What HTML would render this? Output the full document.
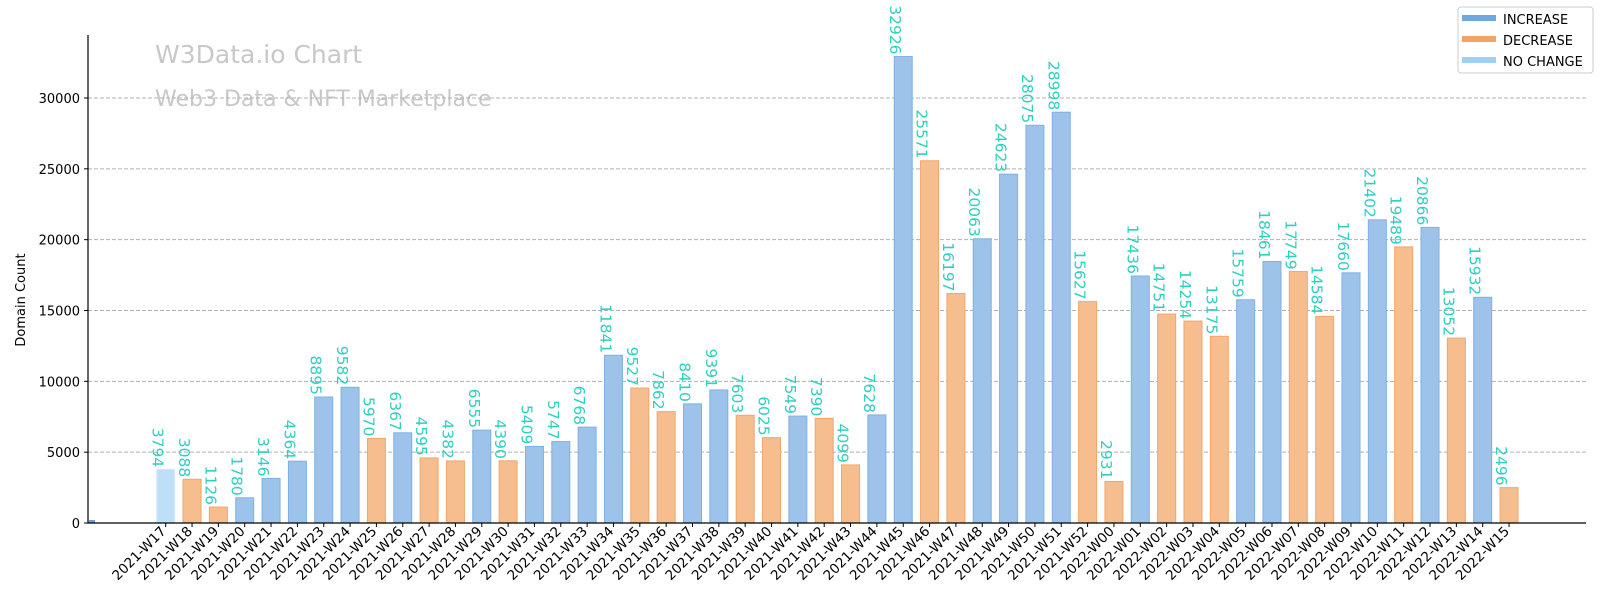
<!DOCTYPE html>
<html><head><meta charset="utf-8"><style>
body{margin:0;background:#fff;}
svg{display:block;font-family:"DejaVu Sans","Liberation Sans",sans-serif;}
</style></head><body>
<svg id="chart" width="1600" height="600" xmlns="http://www.w3.org/2000/svg">
<text x="155" y="63" font-size="25" fill="#c8c8c8">W3Data.io Chart</text>
<text x="155" y="106" font-size="22" fill="#c8c8c8">Web3 Data &amp; NFT Marketplace</text>
<g id="grid"></g><g id="bars"></g><g id="labels"></g><g id="axes"></g>
<text transform="translate(25,300) rotate(-90)" text-anchor="middle" font-size="13" fill="#000">Domain Count</text>
<g>
<rect x="1458" y="7" width="135" height="66" fill="#fff" stroke="#ccc" rx="3"/>
<g><rect x="1462" y="15" width="34" height="6" fill="#6fa8dc"/><text x="1503" y="24" font-size="13">INCREASE</text></g>
<g><rect x="1462" y="36" width="34" height="6" fill="#f4a460"/><text x="1503" y="45" font-size="13">DECREASE</text></g>
<g><rect x="1462" y="57" width="34" height="6" fill="#a0cff5"/><text x="1503" y="66" font-size="13">NO CHANGE</text></g>
</g>
</svg>
<script>
const categories=["2021-W17","2021-W18","2021-W19","2021-W20","2021-W21","2021-W22","2021-W23","2021-W24","2021-W25","2021-W26","2021-W27","2021-W28","2021-W29","2021-W30","2021-W31","2021-W32","2021-W33","2021-W34","2021-W35","2021-W36","2021-W37","2021-W38","2021-W39","2021-W40","2021-W41","2021-W42","2021-W43","2021-W44","2021-W45","2021-W46","2021-W47","2021-W48","2021-W49","2021-W50","2021-W51","2021-W52","2022-W00","2022-W01","2022-W02","2022-W03","2022-W04","2022-W05","2022-W06","2022-W07","2022-W08","2022-W09","2022-W10","2022-W11","2022-W12","2022-W13","2022-W14","2022-W15"];
const values=[3794,3088,1126,1780,3146,4364,8895,9582,5970,6367,4595,4382,6555,4390,5409,5747,6768,11841,9527,7862,8410,9391,7603,6025,7549,7390,4099,7628,32926,25571,16197,20063,24623,28075,28998,15627,2931,17436,14751,14254,13175,15759,18461,17749,14584,17660,21402,19489,20866,13052,15932,2496];
const yTicks=[0,5000,10000,15000,20000,25000,30000];
const NS="http://www.w3.org/2000/svg";
const X0=88,X1=1586,Y0=523,YTOP=35;
const xs=i=>165.7+i*26.34;
const ys=v=>Y0-v*(425/30000);
function mk(tag,attrs,parent){const e=document.createElementNS(NS,tag);for(const k in attrs)e.setAttribute(k,attrs[k]);parent.appendChild(e);return e;}
const grid=document.getElementById('grid'),bars=document.getElementById('bars'),labels=document.getElementById('labels'),axes=document.getElementById('axes');
yTicks.forEach(t=>{
 const y=ys(t);
 if(t>0){const g=mk('line',{x1:X0,x2:X1,y1:y,y2:y,stroke:'#b0b0b0','stroke-dasharray':'4,2','stroke-width':1},grid);
 
 }
 mk('line',{x1:X0-4,x2:X0,y1:y,y2:y,stroke:'#000'},axes);
 const tx=mk('text',{x:X0-8,y:y+5,'text-anchor':'end','font-size':13},axes);
 tx.textContent=t;
 
 
});
const stub=mk('rect',{x:89,y:Y0-3,width:6,height:3,fill:'#6f9fcf'},bars);


values.forEach((v,i)=>{
 const prev=i>0?values[i-1]:null;
 let fill='#bde0f8',stroke='#d6ebfa';
 if(prev!==null&&v>prev){fill='#9dc3ea';stroke='#7fb0e3';}
 else if(prev!==null&&v<prev){fill='#f6be8f';stroke='#f2a66a';}
 const cx=xs(i);
 const r=mk('rect',{x:cx-9,y:ys(v),width:18,height:Y0-ys(v),fill:fill,stroke:stroke,'stroke-width':1},bars);
 
 
 const lb=mk('text',{transform:`translate(${cx-13},${ys(v)-2}) rotate(90)`,'text-anchor':'end','font-size':15.5,fill:'#2fd0c0'},labels);
 lb.textContent=v;
 
 
 mk('line',{x1:cx,x2:cx,y1:Y0,y2:Y0+4,stroke:'#000'},axes);
 const xl=mk('text',{transform:`translate(${cx+1},${Y0+9}) rotate(-45)`,'text-anchor':'end','font-size':13.5},axes);
 xl.textContent=categories[i];
 
 
});
const ax=mk('path',{d:`M${X0},${YTOP}V${Y0}H${X1}`,fill:'none',stroke:'#000','stroke-width':1.2},axes);


</script>
</body></html>
